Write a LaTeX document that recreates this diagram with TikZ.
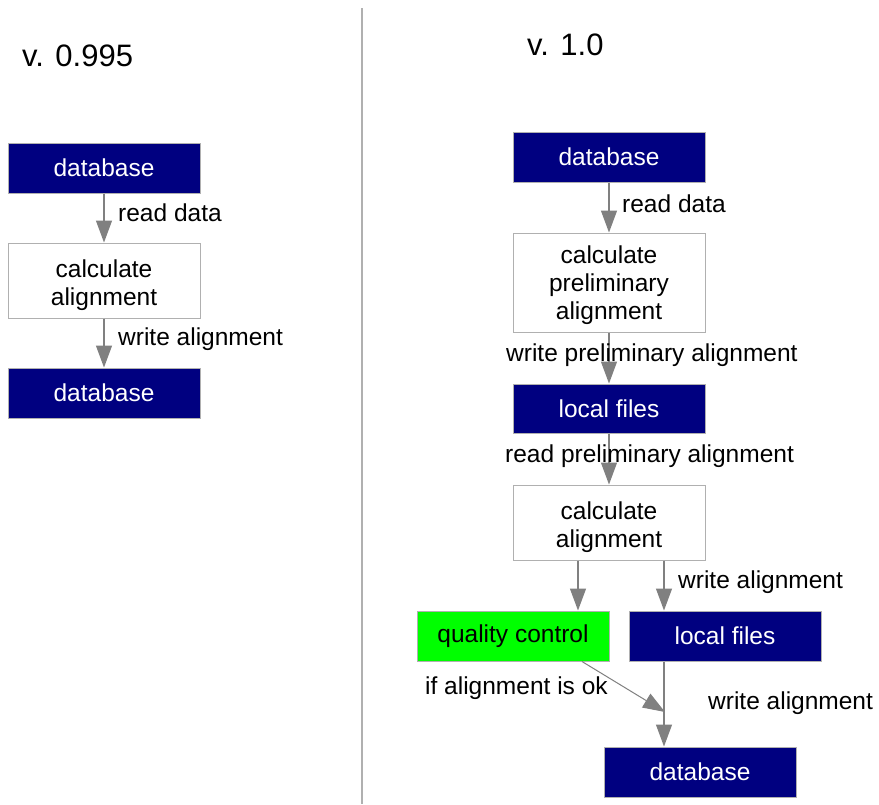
\documentclass[tikz,border=0pt]{standalone}
\usepackage{fontspec}
\setmainfont{Liberation Sans}
\usetikzlibrary{arrows.meta}
\definecolor{navyb}{HTML}{000080}
\definecolor{qcgreen}{HTML}{00FF00}
\definecolor{boxline}{HTML}{B0B0B0}
\definecolor{arrgray}{HTML}{808080}
\tikzset{
  box/.style={draw=boxline, line width=1pt, minimum width=192pt, inner sep=0pt, align=center,
    font=\fontsize{24.5}{28}\selectfont},
  darkbox/.style={box, fill=navyb, text=white, minimum height=50pt},
  whitebox/.style={box, fill=white, text=black},
  boxtext/.style={inner sep=0pt, align=center, font=\fontsize{24.5}{28}\selectfont},
  greenbox/.style={box, fill=qcgreen, text=black, minimum height=50pt},
  arr/.style={draw=arrgray, line width=1.3pt, -{Triangle[length=22pt,width=16pt]}},
  lbl/.style={anchor=west, inner sep=0pt, font=\fontsize{24.5}{28}\selectfont},
  title/.style={inner sep=0pt, font=\fontsize{31}{34}\selectfont}
}
\begin{document}
\begin{tikzpicture}[x=1pt,y=-1pt]
\useasboundingbox[fill=white] (0,0) rectangle (879,804);
% divider
\draw[draw=boxline, line width=1.2pt] (362,8) coordinate (dtop) -- (362,804) coordinate (dbot);
% titles
\node[title, anchor=west] (t1) at (22,56) {v. 0.995};
\node[title, anchor=west] (t2) at (527,45) {v. 1.0};
% left column
\node[darkbox] (ldb1) at (104,168) {database};
\node[whitebox, minimum height=75pt] (lcalc) at (104,280.5) {};
\node[boxtext] (lcalct) at (104,285) {calculate\\alignment};
\node[darkbox] (ldb2) at (104,393) {database};
\draw[arr] (ldb1.south) -- (lcalc.north);
\draw[arr] (lcalc.south) -- (ldb2.north);
\node[lbl] (l1) at (118,213) {read data};
\node[lbl] (l2) at (118,339) {write alignment};
% right column
\node[darkbox] (rdb1) at (609,157) {database};
\node[whitebox, minimum height=99pt] (rpre) at (609,282.5) {};
\node[boxtext] (rpret) at (609,285.5) {calculate\\preliminary\\alignment};
\node[darkbox, minimum height=49pt] (rloc1) at (609,408.5) {local files};
\node[whitebox, minimum height=75pt] (rcalc) at (609,522.5) {};
\node[boxtext] (rcalct) at (609,527) {calculate\\alignment};
\node[greenbox] (qc) at (513,636) {quality control};
\node[darkbox] (rloc2) at (725,636) {local files};
\node[darkbox] (rdb3) at (700,772) {database};
\coordinate (merge) at (665,712);
\draw[arr] (rdb1.south) -- (rpre.north);
\draw[arr] (rpre.south) -- (rloc1.north);
\draw[arr] (rloc1.south) -- (rcalc.north);
\draw[arr] ([xshift=-31pt]rcalc.south) -- ([xshift=-31pt]rcalc.south |- qc.north);
\draw[arr] ([xshift=55pt]rcalc.south) -- ([xshift=55pt]rcalc.south |- rloc2.north);
\draw[arr] ([xshift=-61pt]rloc2.south) -- ([xshift=-61pt]rloc2.south |- rdb3.north);
\draw[arr, line width=1pt] ([xshift=69pt]qc.south) -- (merge);
\node[lbl] (r1) at (622,204) {read data};
\node[lbl] (r2) at (506,355) {write preliminary alignment};
\node[lbl] (r3) at (505,456) {read preliminary alignment};
\node[lbl] (r4) at (678,582) {write alignment};
\node[lbl] (r5) at (425,688) {if alignment is ok};
\node[lbl] (r6) at (708,703) {write alignment};
\end{tikzpicture}
\end{document}
